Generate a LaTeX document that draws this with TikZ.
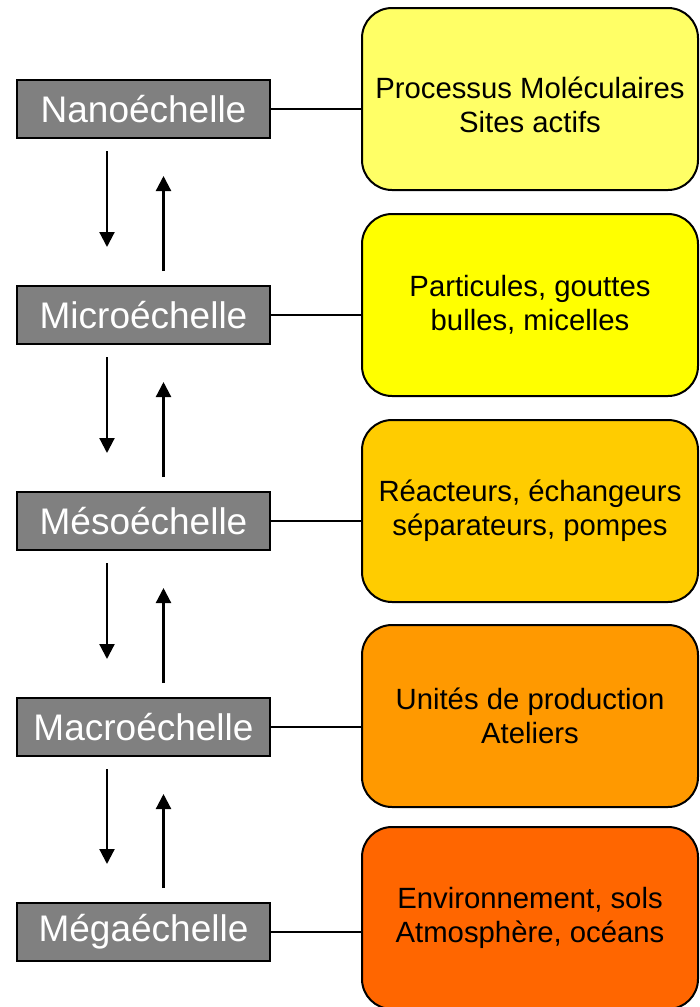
\documentclass[tikz,border=0pt]{standalone}
\usepackage{fontspec}
\setmainfont{Liberation Sans}
\usetikzlibrary{arrows.meta}
\definecolor{grayfill}{HTML}{808080}
\definecolor{c1}{HTML}{FFFF66}
\definecolor{c2}{HTML}{FFFF00}
\definecolor{c3}{HTML}{FFCC00}
\definecolor{c4}{HTML}{FF9900}
\definecolor{c5}{HTML}{FF6600}
\tikzset{
  scalebox/.style={draw=black, line width=2pt, fill=grayfill, text=white,
    minimum width=253pt, minimum height=58pt, inner sep=0pt,
    font=\fontsize{37}{42}\selectfont},
  infobox/.style={draw=black, line width=2pt, rounded corners=30pt,
    minimum width=336pt, minimum height=182pt, inner sep=0pt, align=center,
    font=\fontsize{29.3}{34}\selectfont},
  link/.style={line width=2.2pt},
  arr/.style={line width=2.2pt, -{Triangle[width=15pt,length=15pt]}}
}
\begin{document}
\begin{tikzpicture}[x=1pt,y=-1pt]
\useasboundingbox (0,0) rectangle (700,1007);
\node[scalebox] (s1) at (143.5,109) {Nanoéchelle};
\node[scalebox] (s2) at (143.5,315) {Microéchelle};
\node[scalebox] (s3) at (143.5,521) {Mésoéchelle};
\node[scalebox] (s4) at (143.5,727) {Macroéchelle};
\node[scalebox] (s5) at (143.5,932) {Mégaéchelle};
\node[infobox, fill=c1] (r1) at (530,99) {\rule{0pt}{34pt}Processus Moléculaires\\Sites actifs};
\node[infobox, fill=c2] (r2) at (530,305) {Particules, gouttes\\bulles, micelles};
\node[infobox, fill=c3] (r3) at (530,511) {Réacteurs, échangeurs\\séparateurs, pompes};
\node[infobox, fill=c4] (r4) at (530,716) {Unités de production\\Ateliers};
\node[infobox, fill=c5] (r5) at (530,918) {Environnement, sols\\Atmosphère, océans};
\foreach \i in {1,...,5}{
  \draw[link] (s\i.east) -- (s\i.east -| r\i.west);
}
\foreach \i/\j in {1/2,2/3,3/4,4/5}{
  \draw[arr] ([xshift=-36.5pt,yshift=-12pt]s\i.south) -- ([xshift=-36.5pt,yshift=38pt]s\j.north);
  \draw[arr] ([xshift=20pt,yshift=14pt]s\j.north) -- ([xshift=20pt,yshift=-37pt]s\i.south);
}
\end{tikzpicture}
\end{document}
